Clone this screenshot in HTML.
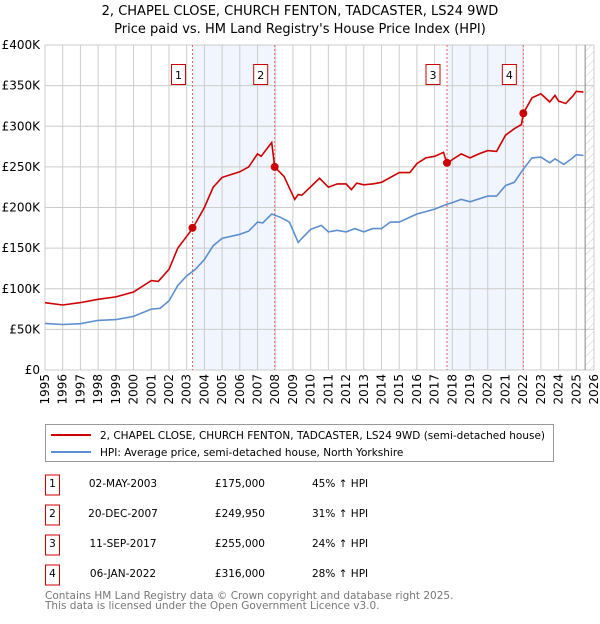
<!DOCTYPE html>
<html><head><meta charset="utf-8"><style>
body{margin:0;background:#fff;font-family:"DejaVu Sans","Liberation Sans",sans-serif;}
svg text{font-family:"DejaVu Sans","Liberation Sans",sans-serif;}
</style></head><body>
<svg id="c" width="600" height="620" viewBox="0 0 600 620" xmlns="http://www.w3.org/2000/svg">
<defs><pattern id="hatch" width="6" height="6" patternUnits="userSpaceOnUse" patternTransform="rotate(45)"><line x1="0" y1="0" x2="0" y2="6" stroke="#ccc" stroke-width="1"/></pattern></defs>
<text x="300" y="15" text-anchor="middle" font-size="13">2, CHAPEL CLOSE, CHURCH FENTON, TADCASTER, LS24 9WD</text>
<text x="300" y="33" text-anchor="middle" font-size="13">Price paid vs. HM Land Registry's House Price Index (HPI)</text>
<g id="plot"></g>
<g>
<rect x="45.5" y="424.5" width="508" height="37" fill="#fff" stroke="#999"/>
<line x1="51" y1="435" x2="91" y2="435" stroke="#cc0000" stroke-width="2"/>
<text x="100" y="439" font-size="10.5">2, CHAPEL CLOSE, CHURCH FENTON, TADCASTER, LS24 9WD (semi-detached house)</text>
<line x1="51" y1="452" x2="91" y2="452" stroke="#5b8fd0" stroke-width="2"/>
<text x="100" y="456" font-size="10.5">HPI: Average price, semi-detached house, North Yorkshire</text>
</g>
<g id="table" font-size="10.5"></g>
<text x="45" y="599" font-size="10.5" fill="#777">Contains HM Land Registry data © Crown copyright and database right 2025.</text>
<text x="45" y="609" font-size="10.5" fill="#777">This data is licensed under the Open Government Licence v3.0.</text>
</svg>
<script>
const redYears=[1995,1996,1997,1998,1999,2000,2001,2001.4,2002,2002.5,2003.33,2004,2004.5,2005,2006,2006.5,2007,2007.2,2007.8,2007.97,2008.5,2009.1,2009.3,2009.5,2010.5,2011,2011.5,2012,2012.3,2012.6,2013,2013.5,2014,2015,2015.6,2016,2016.5,2017,2017.5,2017.7,2018,2018.5,2019,2019.5,2020,2020.5,2021,2021.5,2021.9,2022.01,2022.5,2023,2023.5,2023.8,2024,2024.4,2024.8,2025,2025.4];
const redValues=[82.8,80,83,87,90,96,110,109,124,150,174,200,225,237,244,250,266,263,280,249.95,238,210,216,215,236,225,229,229,222,230,228,229,231,243,243,254,261,263,268,254,259,266,261,266,270,269,289,297,302,316,335,340,330,338,331,328,337,343,342];
const hpiYears=[1995,1996,1997,1998,1999,2000,2001,2001.5,2002,2002.5,2003,2003.5,2004,2004.5,2005,2006,2006.5,2007,2007.3,2007.8,2008.3,2008.8,2009.3,2009.5,2010,2010.6,2011,2011.5,2012,2012.5,2013,2013.5,2014,2014.5,2015,2016,2016.5,2017,2017.7,2018,2018.5,2019,2020,2020.5,2021,2021.5,2022,2022.5,2023,2023.5,2023.8,2024.3,2024.8,2025,2025.4];
const hpiValues=[57.4,56,57,61,62,66,75,76,85,104,116,124,136,153,162,167,171,182,181,192,188,182,157,162,173,178,170,172,170,174,170,174,174,182,182,192,195,198,204,206,210,207,214,214,227,231,247,261,262,255,260,253,261,265,264];
const saleYears=[2003.33,2007.97,2017.7,2022.01];
const saleValues=[175,249.95,255,316];
const saleLabels=["1","2","3","4"];
const saleDates=["02-MAY-2003","20-DEC-2007","11-SEP-2017","06-JAN-2022"];
const salePrices=["£175,000","£249,950","£255,000","£316,000"];
const saleHpi=["45% ↑ HPI","31% ↑ HPI","24% ↑ HPI","28% ↑ HPI"];
const yTicks=[0,50,100,150,200,250,300,350,400];
const yTickLabels=["£0","£50K","£100K","£150K","£200K","£250K","£300K","£350K","£400K"];
const xTicks=[1995,1996,1997,1998,1999,2000,2001,2002,2003,2004,2005,2006,2007,2008,2009,2010,2011,2012,2013,2014,2015,2016,2017,2018,2019,2020,2021,2022,2023,2024,2025,2026];

const L=45,R=594,T=45,B=370;
const xs=y=>L+(y-1995)/(2026-1995)*(R-L);
const ys=v=>B-v/400*(B-T);
const NS="http://www.w3.org/2000/svg";
const plot=document.getElementById('plot');
function mk(tag,attrs,parent){const e=document.createElementNS(NS,tag);for(const k in attrs)e.setAttribute(k,attrs[k]);(parent||plot).appendChild(e);return e;}

let r=mk('rect',{x:L,y:T,width:R-L,height:B-T,fill:'#fff'});


for(let i=0;i<saleYears.length;i+=2){
 const s=mk('rect',{x:xs(saleYears[i]),y:T,width:xs(saleYears[i+1])-xs(saleYears[i]),height:B-T,fill:'#eef2fc',opacity:0.8});
 
 
}
const h=mk('rect',{x:xs(2025.5),y:T,width:R-xs(2025.5),height:B-T,fill:'url(#hatch)'});


xTicks.forEach(t=>{const g=mk('line',{x1:xs(t),y1:T,x2:xs(t),y2:B,stroke:'#ccc','stroke-width':1});
 
 
 const tx=mk('text',{x:0,y:0,'font-size':12,'text-anchor':'end',transform:`translate(${xs(t)+4},${B+4}) rotate(-90)`});tx.textContent=t;
 
 
});
yTicks.forEach((t,i)=>{const g=mk('line',{x1:L,y1:ys(t),x2:R,y2:ys(t),stroke:'#ccc','stroke-width':1});
 
 
 const tx=mk('text',{x:L-5,y:ys(t)+4,'font-size':12,'text-anchor':'end'});tx.textContent=yTickLabels[i];
 
 
});
const vl=mk('line',{x1:xs(2025.5),y1:T,x2:xs(2025.5),y2:B,stroke:'#888','stroke-width':1});


saleYears.forEach((y,i)=>{const d=mk('line',{x1:xs(y),y1:T,x2:xs(y),y2:B,stroke:'#f06060','stroke-width':1,'stroke-dasharray':'2,2'});
 
 
});
function path(xa,va,col,name){const p=mk('path',{d:xa.map((x,i)=>(i?'L':'M')+xs(x).toFixed(1)+','+ys(va[i]).toFixed(1)).join(''),fill:'none',stroke:col,'stroke-width':1.6});
 
 }
path(hpiYears,hpiValues,'#5b8fd0','hpi-line');
path(redYears,redValues,'#cc0000','property-price-line');
saleYears.forEach((y,i)=>{const c=mk('circle',{cx:xs(y),cy:ys(saleValues[i]),r:4,fill:'#cc0000'});
 
 
 const bx=mk('rect',{x:xs(y)-21,y:64.5,width:14,height:20,fill:'#fff',stroke:'#cc0000'});
 
 
 const t=mk('text',{x:xs(y)-14,y:79,'font-size':11,'text-anchor':'middle'});t.textContent=saleLabels[i];
 
 
});
const tb=document.getElementById('table');
saleLabels.forEach((l,i)=>{const y=485+i*30;
 const bx=mk('rect',{x:45.5,y:y-10,width:14,height:20,fill:'#fff',stroke:'#cc0000'},tb);
 
 
 const cells=[[l,52.5,'middle'],[saleDates[i],123,'middle'],[salePrices[i],265,'end'],[saleHpi[i],312,'start']];
 cells.forEach(([txt,x,a],j)=>{const t=mk('text',{x:x,y:y+2,'text-anchor':a},tb);t.textContent=txt;
  
  });
});
</script>
</body></html>
